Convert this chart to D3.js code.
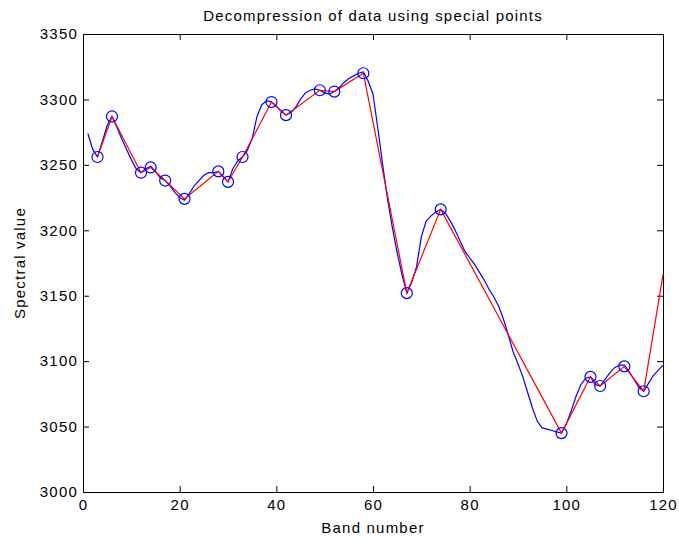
<!doctype html>
<html lang="en">
<head>
  <title>Decompression of data</title>
  <script src="https://d3js.org/d3.v7.min.js"></script>
  <style>
    body {
      margin: 0px;
      background: #ffffff;
    }
    text {
      font-family: "Liberation Sans", Arial, sans-serif;
      fill: #000000;
      letter-spacing: 1.2px;
    }
  </style>
</head>
<body>
  <div id="container"></div>
  <script>
    // original spectral values, bands 1..120
    var bands = d3.range(1, 121);
    var spectral = [
      3274, 3262, 3256, 3268, 3280, 3287, 3279, 3270, 3262, 3254,
      3247, 3244, 3247, 3249, 3245, 3240, 3238, 3234, 3229, 3225,
      3223, 3228, 3234, 3238, 3242, 3244, 3244, 3245, 3241, 3237,
      3247, 3253, 3256, 3261, 3270, 3287, 3296, 3299, 3298, 3295,
      3291, 3288, 3290, 3294, 3300, 3305, 3307, 3308, 3307, 3305,
      3304, 3306, 3309, 3313, 3316, 3318, 3320, 3321, 3314, 3304,
      3278, 3250, 3224, 3202, 3183, 3166, 3152, 3160, 3172, 3195,
      3207, 3211, 3214, 3216, 3213, 3207, 3200, 3192, 3184, 3179,
      3174, 3168, 3162, 3155, 3149, 3142, 3132, 3120, 3107, 3098,
      3088, 3076, 3064, 3054, 3049, 3048, 3047, 3046, 3045, 3052,
      3062, 3073, 3082, 3087, 3088, 3082, 3081, 3086, 3091, 3095,
      3097, 3097, 3092, 3086, 3080, 3077, 3083, 3089, 3093, 3097
    ];

    // special points kept by the compression
    var specialX = [3, 6, 12, 14, 17, 21, 28, 30, 33, 39, 42, 49, 52, 58, 67, 74, 99, 105, 107, 112, 116];
    var specialY = [3256, 3287, 3244, 3248, 3238, 3224, 3245, 3237, 3256, 3298, 3288, 3307, 3306, 3320, 3152, 3216, 3045, 3088, 3081, 3096, 3077];

    // decompressed curve: special points plus the last band
    var decompX = specialX.concat([120]);
    var decompY = specialY.concat([3166]);

    var xTicks = [0, 20, 40, 60, 80, 100, 120];
    var yTicks = [3000, 3050, 3100, 3150, 3200, 3250, 3300, 3350];

    var W = 679, H = 544;
    var plotL = 83, plotR = 663, plotT = 34, plotB = 492;

    var svg = d3.select('div#container').append('svg')
      .attr('width', W)
      .attr('height', H);

    var x = d3.scaleLinear()
      .domain([0, 120])
      .range([plotL, plotR]);

    var y = d3.scaleLinear()
      .domain([3000, 3350])
      .range([plotB, plotT]);

    // box
    svg.append('rect')
      .attr('x', plotL + 0.5)
      .attr('y', plotT + 0.5)
      .attr('width', plotR - plotL)
      .attr('height', plotB - plotT)
      .attr('fill', '#ffffff')
      .attr('stroke', '#000000')
      .attr('stroke-width', 1);

    function styleAxis(g) {
      g.select('.domain').remove();
      g.selectAll('.tick line').attr('stroke', '#000000');
      g.selectAll('.tick text')
        .style('font-size', '15px')
        .style('font-family', '"Liberation Sans", Arial, sans-serif');
    }

    svg.append('g')
      .attr('transform', 'translate(0,' + plotB + ')')
      .call(d3.axisBottom(x).tickValues(xTicks).tickSize(-6).tickPadding(7).tickFormat(d3.format('d')))
      .call(styleAxis);

    svg.append('g')
      .attr('transform', 'translate(0,' + plotT + ')')
      .call(d3.axisTop(x).tickValues(xTicks).tickSize(-6).tickFormat(''))
      .call(styleAxis);

    svg.append('g')
      .attr('transform', 'translate(' + plotL + ',0)')
      .call(d3.axisLeft(y).tickValues(yTicks).tickSize(-6).tickPadding(5).tickFormat(d3.format('d')))
      .call(styleAxis);

    svg.append('g')
      .attr('transform', 'translate(' + plotR + ',0)')
      .call(d3.axisRight(y).tickValues(yTicks).tickSize(-6).tickFormat(''))
      .call(styleAxis);

    var line = d3.line()
      .x(function (d) { return x(d[0]); })
      .y(function (d) { return y(d[1]); });

    svg.append('path')
      .datum(d3.zip(bands, spectral))
      .attr('d', line)
      .attr('fill', 'none')
      .attr('stroke', '#0000ff')
      .attr('stroke-width', 1.2);

    svg.append('path')
      .datum(d3.zip(decompX, decompY))
      .attr('d', line)
      .attr('fill', 'none')
      .attr('stroke', '#ff0000')
      .attr('stroke-width', 1.2);

    svg.append('g')
      .selectAll('circle')
      .data(d3.zip(specialX, specialY))
      .enter()
      .append('circle')
        .attr('cx', function (d) { return x(d[0]); })
        .attr('cy', function (d) { return y(d[1]); })
        .attr('r', 5.5)
        .attr('fill', 'none')
        .attr('stroke', '#0000ff')
        .attr('stroke-width', 1.2);

    svg.append('text')
      .attr('x', (plotL + plotR) / 2)
      .attr('y', 21)
      .style('text-anchor', 'middle')
      .style('font-size', '15px')
      .text('Decompression of data using special points');

    svg.append('text')
      .attr('x', (plotL + plotR) / 2)
      .attr('y', 533)
      .style('text-anchor', 'middle')
      .style('font-size', '15px')
      .text('Band number');

    svg.append('text')
      .attr('transform', 'rotate(-90)')
      .attr('x', -(plotT + plotB) / 2)
      .attr('y', 25)
      .style('text-anchor', 'middle')
      .style('font-size', '15px')
      .text('Spectral value');
  </script>
</body>
</html>
